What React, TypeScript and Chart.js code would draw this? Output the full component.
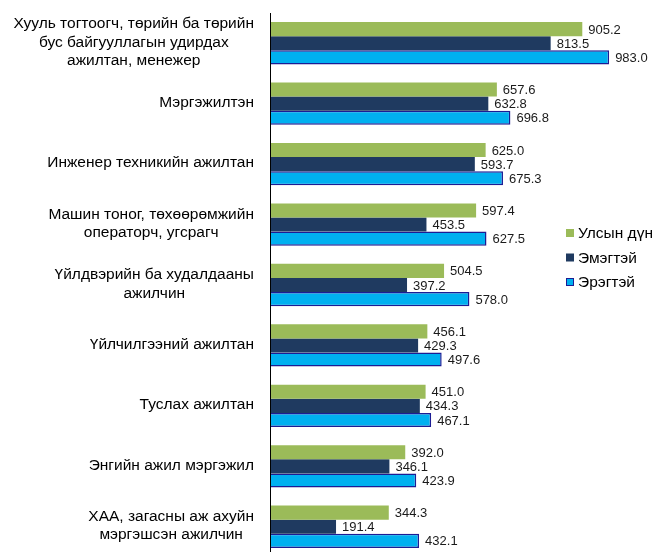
import React, { useEffect, useRef } from "react";
import { Chart, registerables } from "chart.js";

Chart.register(...registerables);

const categories: string[][] = [
  ["Хууль тогтоогч, төрийн ба төрийн", "бус байгууллагын удирдах", "ажилтан, менежер"],
  ["Мэргэжилтэн"],
  ["Инженер техникийн ажилтан"],
  ["Машин тоног, төхөөрөмжийн", "операторч, угсрагч"],
  ["Үйлдвэрийн ба худалдааны", "ажилчин"],
  ["Үйлчилгээний ажилтан"],
  ["Туслах ажилтан"],
  ["Энгийн ажил мэргэжил"],
  ["ХАА, загасны аж ахуйн", "мэргэшсэн ажилчин"],
];
const seriesNames = ["Улсын дүн", "Эмэгтэй", "Эрэгтэй"];
const totalValues = [905.2, 657.6, 625.0, 597.4, 504.5, 456.1, 451.0, 392.0, 344.3];
const femaleValues = [813.5, 632.8, 593.7, 453.5, 397.2, 429.3, 434.3, 346.1, 191.4];
const maleValues = [983.0, 696.8, 675.3, 627.5, 578.0, 497.6, 467.1, 423.9, 432.1];

const FONT = "'Liberation Sans', Arial, sans-serif";
const COLORS = ["#9BBB59", "#1F3A60", "#00B0F0"];
const BORDERS = ["#9BBB59", "#1F3A60", "#1C1C94"];

const customDraw = {
  id: "customDraw",
  afterDatasetsDraw(chart: any) {
    const ctx = chart.ctx;
    const area = chart.chartArea;
    // axis line
    ctx.save();
    ctx.strokeStyle = "#000";
    ctx.lineWidth = 1;
    ctx.beginPath();
    ctx.moveTo(area.left + 0.5, area.top);
    ctx.lineTo(area.left + 0.5, chart.height);
    ctx.stroke();

    // value labels
    ctx.font = `13px ${FONT}`;
    ctx.fillStyle = "#1a1a1a";
    ctx.textBaseline = "middle";
    ctx.textAlign = "left";
    chart.data.datasets.forEach((ds: any, di: number) => {
      const meta = chart.getDatasetMeta(di);
      meta.data.forEach((el: any, i: number) => {
        ctx.fillText(Number(ds.data[i]).toFixed(1), el.x + 6, el.y + 1);
      });
    });

    // category labels
    const yScale = chart.scales.y;
    ctx.font = `15.5px ${FONT}`;
    ctx.fillStyle = "#000";
    ctx.textAlign = "center";
    const right = 254;
    const lh = 18.5;
    categories.forEach((lines, i) => {
      const cy = yScale.getPixelForValue(i);
      const maxW = Math.max(...lines.map((l) => ctx.measureText(l).width));
      const cx = right - maxW / 2;
      const start = cy - ((lines.length - 1) * lh) / 2 - 1;
      lines.forEach((l, k) => ctx.fillText(l, cx, start + k * lh));
    });

    // legend
    ctx.textAlign = "left";
    seriesNames.forEach((name, i) => {
      const y = 233 + i * 24.5;
      ctx.fillStyle = COLORS[i];
      ctx.fillRect(566, y - 4, 8, 8);
      if (i === 2) {
        ctx.strokeStyle = BORDERS[2];
        ctx.lineWidth = 1;
        ctx.strokeRect(566.5, y - 3.5, 7, 7);
      }
      ctx.fillStyle = "#000";
      ctx.fillText(name, 578, y + 1);
    });
    ctx.restore();
  },
};

export default function App() {
  const ref = useRef<HTMLCanvasElement | null>(null);
  useEffect(() => {
    if (!ref.current) return;
    const chart = new Chart(ref.current, {
      type: "bar",
      data: {
        labels: categories.map((c) => c.join(" ")),
        datasets: [
          { label: seriesNames[0], data: totalValues, backgroundColor: COLORS[0], borderColor: BORDERS[0], borderWidth: 0 },
          { label: seriesNames[1], data: femaleValues, backgroundColor: COLORS[1], borderColor: BORDERS[1], borderWidth: 0 },
          { label: seriesNames[2], data: maleValues, backgroundColor: COLORS[2], borderColor: BORDERS[2], borderWidth: 1.5 },
        ],
      },
      options: {
        indexAxis: "y",
        responsive: false,
        animation: false,
        layout: { padding: { left: 270, right: 53, top: 13, bottom: 0 } },
        datasets: { bar: { categoryPercentage: 0.7, barPercentage: 1 } },
        scales: {
          x: { display: false, min: 0, max: 1000 },
          y: { display: false },
        },
        plugins: { legend: { display: false }, tooltip: { enabled: false } },
      } as any,
      plugins: [customDraw],
    });
    return () => chart.destroy();
  }, []);
  return (
    <div style={{ position: "fixed", left: 0, top: 0, width: 668, height: 552, overflow: "hidden", background: "#fff" }}>
      <canvas ref={ref} width={668} height={557} style={{ display: "block" }} />
    </div>
  );
}
